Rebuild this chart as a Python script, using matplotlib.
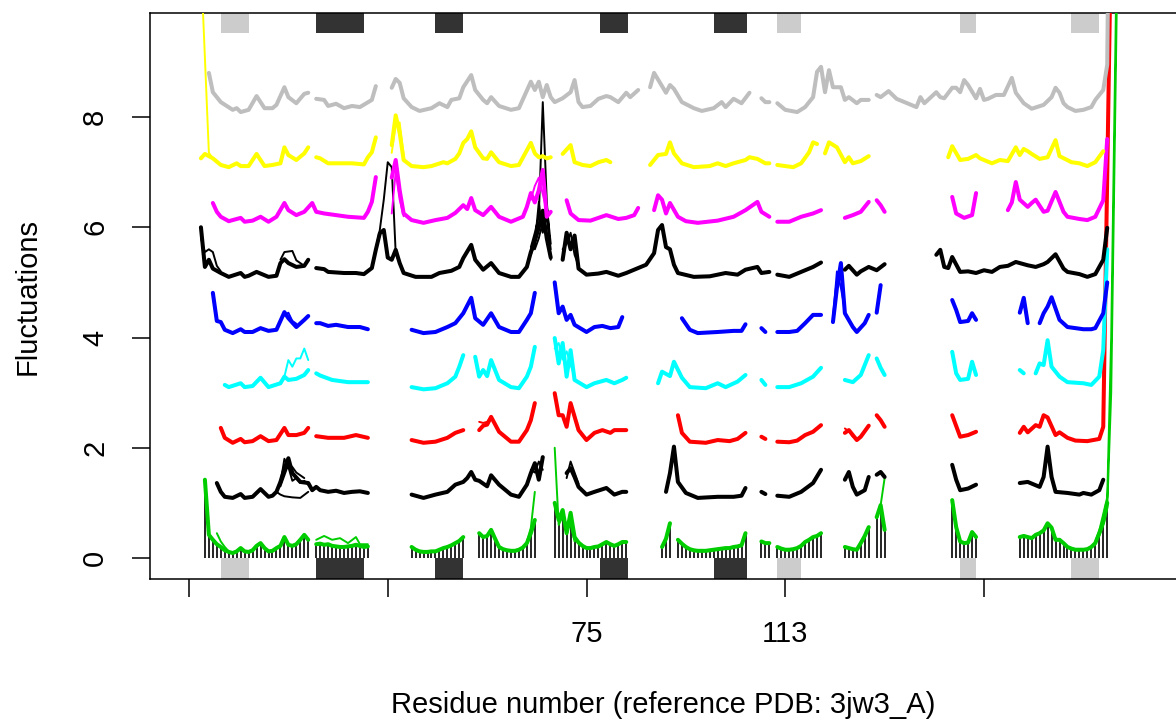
import numpy as np
import matplotlib
matplotlib.use("Agg")
import matplotlib.pyplot as plt
from matplotlib.patches import Rectangle

plt.rcParams['font.family'] = ['Liberation Sans', 'DejaVu Sans']

# ---------------- data ----------------
group_offset = [0, 1, 2, 3, 4, 5, 6, 7, 8]
group_color = ['#00CD00', 'black', 'red', 'cyan', 'blue', 'black', 'magenta', 'yellow', '#BEBEBE']

# green group (offset 0): one value per alignment position, (start, values)
green_segs = [
    (4, [1.42, 0.42, 0.33, 0.25, 0.20, 0.14, 0.11, 0.09, 0.12, 0.18, 0.12, 0.11, 0.14, 0.22,
         0.27, 0.18, 0.12, 0.13, 0.18, 0.22, 0.38, 0.24, 0.22, 0.25, 0.33, 0.42, 0.33]),
    (32, [0.25, 0.26, 0.24, 0.25, 0.22, 0.21, 0.20, 0.20, 0.21, 0.22, 0.24, 0.22, 0.20, 0.21]),
    (56, [0.20, 0.15, 0.12, 0.11, 0.11, 0.12, 0.12, 0.15, 0.18, 0.20, 0.23, 0.27, 0.31, 0.38]),
    (73, [0.45, 0.38, 0.40, 0.51, 0.35, 0.20, 0.16, 0.14, 0.13, 0.13, 0.15, 0.19, 0.27, 0.45, 0.69]),
    (92, [1.00, 0.69, 0.87, 0.45, 0.82, 0.38, 0.28, 0.22, 0.18, 0.18, 0.20, 0.21, 0.25, 0.29,
          0.25, 0.22, 0.25, 0.29, 0.29]),
    (119, [0.20, 0.35, 0.63]),
    (123, [0.33, 0.26, 0.20, 0.16, 0.14, 0.13, 0.13, 0.13, 0.14, 0.15, 0.16, 0.17, 0.18, 0.18,
           0.20, 0.21, 0.23, 0.45]),
    (144, [0.30, 0.27, 0.27]),
    (148, [0.20, 0.17, 0.15, 0.15, 0.16, 0.18, 0.22, 0.29, 0.33, 0.38, 0.40, 0.45]),
    (165, [0.20, 0.18, 0.16, 0.15, 0.27, 0.40, 0.56]),
    (173, [0.74, 0.96, 0.51]),
    (192, [1.05, 0.56, 0.30, 0.27, 0.28, 0.47, 0.38]),
    (209, [0.38, 0.40, 0.38, 0.36, 0.42, 0.45, 0.50, 0.63, 0.55, 0.33, 0.33, 0.27, 0.20, 0.17,
           0.15, 0.15, 0.15, 0.16, 0.20, 0.27, 0.45, 0.65, 1.00]),
]
green_alt = [
    [(7, 0.45), (8, 0.30), (9, 0.20), (10, 0.12)],
    [(32, 0.33), (34, 0.40), (36, 0.33), (38, 0.36), (40, 0.27), (42, 0.38), (43, 0.25), (45, 0.25)],
    [(85, 0.30), (86, 0.55), (87, 1.20)],
    [(92, 2.00), (93, 0.60), (94, 0.75), (95, 0.50), (96, 0.60), (97, 0.30)],
    [(173, 0.74), (174, 0.96), (175, 1.45)],
    [(228, 0.30), (229, 0.50), (230, 0.80), (231, 1.10), (232, 4.0), (233, 9.0), (234, 14.0)],
    [(229, 0.40), (230, 0.60), (231, 0.90), (232, 3.0), (233, 8.0), (234, 13.0)],
]

black1_segs = [
    [(7, 0.36), (8, 0.20), (9, 0.11), (11, 0.09), (13, 0.16), (14, 0.09), (16, 0.11), (18, 0.25),
     (20, 0.11), (21, 0.13), (22, 0.20), (23, 0.38), (24, 0.62), (25, 0.81), (26, 0.54), (28, 0.38),
     (30, 0.36), (31, 0.23), (32, 0.29), (33, 0.23), (35, 0.20), (37, 0.22), (39, 0.18), (41, 0.20),
     (43, 0.21), (45, 0.18)],
    [(56, 0.15), (59, 0.09), (62, 0.15), (65, 0.20), (67, 0.33), (69, 0.38), (70, 0.45), (71, 0.56),
     (72, 0.42), (73, 0.40), (75, 0.30), (76, 0.50), (78, 0.33), (81, 0.15), (83, 0.11), (85, 0.33),
     (86, 0.54), (87, 0.72), (88, 0.42), (89, 0.83)],
    [(95, 0.54), (96, 0.63), (97, 0.47), (98, 0.29), (100, 0.15), (102, 0.20), (105, 0.27),
     (107, 0.15), (109, 0.20), (110, 0.20)],
    [(120, 0.20), (121, 0.54), (122, 1.02), (123, 0.38), (125, 0.18), (128, 0.09), (133, 0.11),
     (137, 0.11), (139, 0.13), (140, 0.27)],
    [(144, 0.20), (145, 0.16)],
    [(148, 0.13), (151, 0.11), (154, 0.20), (157, 0.36), (159, 0.60)],
    [(165, 0.42), (166, 0.56), (167, 0.29), (168, 0.15), (170, 0.23), (171, 0.47)],
    [(173, 0.51), (174, 0.56), (175, 0.47)],
    [(192, 0.69), (193, 0.42), (194, 0.23), (196, 0.26), (198, 0.33)],
    [(209, 0.36), (211, 0.38), (214, 0.29), (215, 0.47), (216, 1.02), (217, 0.47), (218, 0.20),
     (221, 0.18), (224, 0.15), (225, 0.18), (227, 0.15), (229, 0.23), (230, 0.42)],
]
black1_alt = [
    [(22, 0.20), (23, 0.15), (24, 0.12), (26, 0.10), (28, 0.09), (30, 0.20)],
    [(23, 0.35), (24, 0.80), (25, 0.65), (26, 0.40), (27, 0.45), (28, 0.36), (29, 0.40), (30, 0.33)],
    [(23, 0.30), (24, 0.50), (25, 0.70), (26, 0.65), (27, 0.55), (28, 0.50), (29, 0.45)],
    [(86, 0.60), (87, 0.55), (88, 0.75), (89, 0.60)],
    [(95, 0.45), (96, 0.75), (97, 0.55), (98, 0.35)],
]

red_segs = [
    [(8, 0.36), (9, 0.18), (11, 0.09), (13, 0.16), (14, 0.10), (16, 0.12), (18, 0.21), (20, 0.12),
     (22, 0.14), (24, 0.36), (25, 0.23), (27, 0.23), (29, 0.27), (30, 0.36)],
    [(32, 0.21), (35, 0.18), (39, 0.18), (42, 0.23), (45, 0.18)],
    [(56, 0.14), (59, 0.09), (62, 0.11), (65, 0.18), (67, 0.27), (69, 0.32)],
    [(73, 0.32), (74, 0.40), (75, 0.42), (76, 0.56), (78, 0.29), (81, 0.11), (83, 0.11), (85, 0.32),
     (86, 0.50), (87, 0.81)],
    [(92, 0.99), (93, 0.59), (94, 0.59), (95, 0.38), (96, 0.81), (98, 0.32), (100, 0.14), (102, 0.27),
     (104, 0.32), (106, 0.27), (107, 0.32), (109, 0.32), (110, 0.32)],
    [(123, 0.59), (124, 0.27), (126, 0.11), (130, 0.09), (133, 0.14), (136, 0.12), (138, 0.16),
     (140, 0.27)],
    [(144, 0.20), (145, 0.16)],
    [(148, 0.11), (151, 0.10), (153, 0.13), (155, 0.23), (157, 0.29), (159, 0.41)],
    [(165, 0.27), (166, 0.32), (168, 0.14), (169, 0.20), (171, 0.40)],
    [(173, 0.59), (174, 0.50), (175, 0.38)],
    [(192, 0.59), (194, 0.20), (196, 0.23), (198, 0.29)],
    [(209, 0.27), (210, 0.38), (211, 0.28), (213, 0.41), (214, 0.38), (215, 0.59), (216, 0.55),
     (218, 0.23), (219, 0.28), (221, 0.18), (223, 0.13), (226, 0.12), (229, 0.16), (230, 0.38),
     (232, 9.5)],
]
red_alt = [
    [(73, 0.47), (74, 0.45), (75, 0.47), (76, 0.56)],
    [(165, 0.35), (166, 0.30), (167, 0.20)],
]

cyan_segs = [
    [(9, 0.14), (10, 0.10), (13, 0.17), (14, 0.10), (16, 0.12), (18, 0.27), (20, 0.10), (23, 0.17),
     (24, 0.29), (25, 0.23), (27, 0.25), (29, 0.32), (30, 0.41)],
    [(32, 0.35), (33, 0.31), (36, 0.23), (40, 0.19), (43, 0.19), (45, 0.19)],
    [(56, 0.10), (59, 0.06), (62, 0.08), (65, 0.17), (67, 0.29), (68, 0.47), (69, 0.68)],
    [(72, 0.65), (73, 0.29), (74, 0.41), (75, 0.30), (76, 0.59), (78, 0.23), (81, 0.10), (83, 0.08),
     (85, 0.29), (86, 0.47), (87, 0.83)],
    [(92, 0.99), (93, 0.53), (94, 0.90), (95, 0.29), (96, 0.77), (97, 0.23), (100, 0.10), (102, 0.17),
     (105, 0.23), (107, 0.17), (109, 0.23), (110, 0.27)],
    [(118, 0.17), (119, 0.38), (121, 0.30), (122, 0.56), (124, 0.27), (126, 0.10), (130, 0.08),
     (133, 0.17), (135, 0.10), (138, 0.20), (140, 0.32)],
    [(144, 0.23), (145, 0.14)],
    [(148, 0.10), (151, 0.10), (154, 0.17), (157, 0.29), (159, 0.45)],
    [(165, 0.23), (167, 0.19), (169, 0.32), (171, 0.68)],
    [(173, 0.62), (174, 0.45), (175, 0.32)],
    [(192, 0.74), (193, 0.35), (194, 0.23), (196, 0.25), (197, 0.56), (198, 0.32)],
    [(209, 0.41), (210, 0.35)],
    [(213, 0.35), (214, 0.53), (215, 0.50), (216, 0.95), (217, 0.47), (219, 0.29), (221, 0.19),
     (225, 0.17), (227, 0.14), (229, 0.29), (230, 0.77), (231, 2.6)],
]
cyan_alt = [
    [(24, 0.29), (25, 0.59), (26, 0.47), (27, 0.62), (28, 0.62), (29, 0.80), (30, 0.59)],
    [(92, 0.80), (93, 0.90), (94, 0.60), (95, 0.75), (96, 0.50), (97, 0.30)],
]

blue_segs = [
    [(6, 0.81), (7, 0.30), (8, 0.28), (9, 0.14), (11, 0.08), (13, 0.15), (14, 0.10), (16, 0.10),
     (18, 0.17), (20, 0.12), (22, 0.14), (24, 0.46), (25, 0.35), (27, 0.19), (29, 0.32), (30, 0.39)],
    [(32, 0.26), (33, 0.26), (35, 0.21), (37, 0.23), (40, 0.19), (43, 0.19), (45, 0.15)],
    [(56, 0.14), (59, 0.08), (62, 0.10), (65, 0.19), (67, 0.26), (69, 0.44), (71, 0.72), (72, 0.35),
     (74, 0.23), (76, 0.44), (78, 0.19), (81, 0.10), (83, 0.10), (85, 0.32), (86, 0.44), (87, 0.81)],
    [(92, 1.00), (93, 0.44), (94, 0.56), (95, 0.32), (96, 0.41), (97, 0.23), (100, 0.10), (102, 0.19),
     (104, 0.21), (106, 0.17), (108, 0.19), (109, 0.37)],
    [(124, 0.35), (126, 0.14), (128, 0.08), (133, 0.10), (137, 0.12), (139, 0.12), (140, 0.24)],
    [(144, 0.17), (145, 0.10)],
    [(148, 0.10), (151, 0.10), (153, 0.12), (155, 0.26), (157, 0.41), (159, 0.41)],
    [(162, 0.28), (163, 0.90), (164, 1.35), (165, 0.44), (167, 0.19), (168, 0.10), (170, 0.26),
     (171, 0.41)],
    [(173, 0.45), (174, 0.95)],
    [(192, 0.68), (193, 0.50), (194, 0.28), (196, 0.30), (197, 0.44), (198, 0.32)],
    [(209, 0.45), (210, 0.72), (211, 0.26)],
    [(214, 0.26), (215, 0.44), (216, 0.56), (217, 0.73), (219, 0.32), (221, 0.19), (223, 0.17),
     (225, 0.15), (227, 0.15), (228, 0.17), (230, 0.44), (231, 1.00)],
]
blue_alt = [
    [(162, 0.35), (163, 1.20), (164, 0.90), (165, 0.50)],
    [(24, 0.40), (25, 0.45), (26, 0.30), (27, 0.25)],
]

black5_segs = [
    [(3, 1.00), (4, 0.28), (5, 0.41), (6, 0.25), (8, 0.17), (10, 0.10), (13, 0.17), (14, 0.10),
     (15, 0.12), (17, 0.19), (20, 0.10), (22, 0.12), (23, 0.35), (24, 0.42), (25, 0.35), (27, 0.28),
     (29, 0.30), (30, 0.41)],
    [(32, 0.26), (34, 0.24), (35, 0.19), (39, 0.17), (42, 0.17), (44, 0.15), (46, 0.26), (47, 0.59),
     (48, 0.89), (49, 0.95), (50, 0.45), (51, 0.41), (52, 0.59), (53, 0.35), (54, 0.17), (57, 0.10),
     (61, 0.10), (63, 0.17), (66, 0.21), (68, 0.28), (69, 0.44), (71, 0.68), (72, 0.41), (74, 0.23),
     (76, 0.35), (78, 0.17), (81, 0.10), (83, 0.10), (85, 0.28), (86, 0.55), (87, 0.75), (88, 1.00),
     (89, 1.30), (90, 0.80), (91, 0.45)],
    [(94, 0.41), (95, 0.90), (96, 0.60), (97, 0.85), (98, 0.25), (100, 0.14), (103, 0.16), (105, 0.19),
     (108, 0.12), (110, 0.17), (113, 0.26), (115, 0.32), (117, 0.53), (118, 0.95), (119, 1.04),
     (120, 0.64), (121, 0.60), (122, 0.32), (123, 0.17), (127, 0.10), (131, 0.11), (135, 0.17),
     (138, 0.14), (140, 0.23), (143, 0.28), (144, 0.17), (146, 0.19)],
    [(148, 0.14), (151, 0.10), (154, 0.19), (157, 0.28), (159, 0.36)],
    [(165, 0.23), (166, 0.30), (168, 0.14), (169, 0.20), (171, 0.28), (173, 0.22), (175, 0.33)],
    [(188, 0.50), (189, 0.59), (190, 0.28), (191, 0.26), (192, 0.46), (194, 0.19), (196, 0.20),
     (198, 0.17), (200, 0.22), (202, 0.19), (204, 0.28), (206, 0.30), (208, 0.37), (211, 0.31),
     (213, 0.28), (215, 0.33), (216, 0.37), (218, 0.51), (220, 0.25), (221, 0.19), (224, 0.15),
     (226, 0.10), (228, 0.15), (230, 0.41), (231, 0.99)],
]
black5_alt = [
    [(3, 0.80), (4, 0.55), (5, 0.60), (6, 0.55), (7, 0.30), (8, 0.20)],
    [(23, 0.41), (24, 0.55), (26, 0.57), (27, 0.40), (29, 0.30), (30, 0.40)],
    [(46, 0.26), (47, 0.60), (48, 0.95), (49, 1.50), (50, 2.18), (51, 2.09), (52, 0.53), (53, 0.35),
     (54, 0.20)],
    [(86, 0.64), (87, 0.90), (88, 1.20), (89, 3.27), (90, 1.49), (91, 0.41)],
    [(86, 0.50), (87, 0.70), (88, 1.45), (89, 0.90), (90, 1.20), (91, 0.60)],
    [(87, 0.60), (88, 0.80), (89, 1.10), (90, 1.40), (91, 0.70)],
    [(94, 0.60), (95, 0.70), (96, 0.90), (97, 0.50), (98, 0.30)],
]

magenta_segs = [
    [(6, 0.44), (7, 0.28), (8, 0.19), (10, 0.11), (13, 0.17), (14, 0.10), (16, 0.12), (18, 0.19),
     (20, 0.10), (22, 0.19), (24, 0.44), (25, 0.31), (27, 0.22), (29, 0.28), (31, 0.44), (32, 0.28),
     (34, 0.25), (37, 0.22), (40, 0.19), (44, 0.17), (45, 0.28), (46, 0.46), (47, 0.91)],
    [(51, 0.90), (52, 1.22), (53, 0.67), (54, 0.25), (56, 0.13), (59, 0.08), (62, 0.13), (65, 0.17),
     (67, 0.26), (69, 0.40), (70, 0.33), (71, 0.53), (72, 0.31), (74, 0.22), (76, 0.37), (78, 0.19),
     (81, 0.10), (84, 0.19), (85, 0.37), (86, 0.62), (87, 0.45), (88, 0.67), (89, 1.04), (90, 0.19),
     (91, 0.28)],
    [(95, 0.49), (96, 0.25), (98, 0.13), (101, 0.12), (103, 0.17), (105, 0.22), (108, 0.15),
     (110, 0.17), (112, 0.22), (113, 0.35)],
    [(117, 0.31), (118, 0.58), (119, 0.50), (120, 0.25), (121, 0.44), (123, 0.19), (125, 0.11),
     (128, 0.08), (133, 0.12), (137, 0.19), (140, 0.31), (143, 0.46), (144, 0.28), (146, 0.19)],
    [(148, 0.10), (151, 0.10), (154, 0.19), (157, 0.25), (159, 0.31)],
    [(165, 0.17), (167, 0.22), (169, 0.28), (171, 0.46)],
    [(173, 0.49), (174, 0.40), (175, 0.28)],
    [(192, 0.55), (193, 0.25), (195, 0.17), (197, 0.22), (198, 0.62)],
    [(206, 0.31), (207, 0.45), (208, 0.82), (209, 0.50), (211, 0.37), (212, 0.44), (213, 0.50),
     (215, 0.28), (216, 0.30), (218, 0.64), (220, 0.28), (221, 0.19), (224, 0.15), (226, 0.13),
     (228, 0.19), (230, 0.49), (231, 1.60)],
]
magenta_alt = [
    [(51, 0.25), (52, 1.00), (53, 0.50), (54, 0.20)],
    [(86, 0.50), (87, 0.75), (88, 0.90), (89, 0.60), (90, 0.30)],
]

yellow_segs = [
    [(3, 0.25), (4, 0.33), (6, 0.25), (8, 0.13), (10, 0.09), (12, 0.16), (13, 0.11), (15, 0.11),
     (17, 0.33), (19, 0.11), (21, 0.13), (23, 0.16), (24, 0.45), (25, 0.31), (27, 0.22), (29, 0.34),
     (30, 0.45)],
    [(32, 0.27), (33, 0.25), (35, 0.16), (38, 0.16), (41, 0.16), (44, 0.14), (45, 0.27), (46, 0.36),
     (47, 0.63)],
    [(51, 0.49), (52, 1.03), (53, 0.71), (54, 0.22), (56, 0.11), (59, 0.09), (61, 0.11), (64, 0.18),
     (65, 0.16), (67, 0.24), (68, 0.34), (69, 0.53), (70, 0.60), (71, 0.74), (72, 0.45), (74, 0.25),
     (75, 0.24), (76, 0.36), (78, 0.18), (81, 0.11), (83, 0.13), (86, 0.53), (87, 0.34), (88, 0.27),
     (89, 0.29), (90, 0.25), (91, 0.27)],
    [(94, 0.33), (96, 0.49), (97, 0.18), (99, 0.13), (101, 0.11), (103, 0.18), (105, 0.22), (106, 0.18)],
    [(116, 0.13), (118, 0.31), (120, 0.33), (121, 0.54), (122, 0.34), (124, 0.16), (127, 0.09),
     (131, 0.11), (133, 0.16), (135, 0.11), (137, 0.16), (140, 0.22), (141, 0.27), (143, 0.24),
     (145, 0.16), (146, 0.16)],
    [(148, 0.13), (152, 0.09), (154, 0.16), (156, 0.36), (157, 0.54), (158, 0.51)],
    [(160, 0.34), (161, 0.54), (163, 0.45), (165, 0.18), (166, 0.27), (167, 0.16), (169, 0.20),
     (171, 0.29)],
    [(191, 0.27), (192, 0.47), (194, 0.22), (196, 0.24), (198, 0.31), (199, 0.25), (202, 0.16),
     (204, 0.22), (206, 0.20), (208, 0.45), (209, 0.31), (210, 0.42), (211, 0.38), (212, 0.33),
     (214, 0.24), (216, 0.27), (218, 0.58), (219, 0.29), (222, 0.18), (224, 0.16), (226, 0.11),
     (228, 0.18), (230, 0.38)],
]
yellow_alt = [
    [(3, 3.80), (5, 0.35), (6, 0.25)],
    [(51, 0.35), (52, 0.85), (53, 0.90), (54, 0.30)],
]

gray_segs = [
    [(5, 0.80), (6, 0.45), (8, 0.27), (11, 0.13), (12, 0.16), (13, 0.09), (15, 0.13), (17, 0.38),
     (19, 0.16), (21, 0.16), (22, 0.22), (24, 0.54), (25, 0.36), (27, 0.25), (29, 0.42), (30, 0.44)],
    [(32, 0.33), (34, 0.31), (35, 0.20), (37, 0.24), (39, 0.16), (41, 0.20), (43, 0.18), (46, 0.31),
     (47, 0.56)],
    [(51, 0.53), (52, 0.69), (53, 0.62), (54, 0.34), (56, 0.18), (58, 0.11), (61, 0.16), (63, 0.25),
     (65, 0.18), (66, 0.31), (68, 0.34), (69, 0.54), (71, 0.76), (72, 0.49), (74, 0.31), (75, 0.25),
     (76, 0.36), (78, 0.20), (81, 0.13), (83, 0.16), (86, 0.64), (87, 0.49), (88, 0.64), (89, 0.36),
     (90, 0.58), (91, 0.36), (92, 0.27), (94, 0.34), (96, 0.45), (97, 0.67), (98, 0.27), (99, 0.18),
     (101, 0.20), (103, 0.33), (105, 0.38), (106, 0.36), (108, 0.27), (110, 0.44), (111, 0.36),
     (113, 0.49)],
    [(116, 0.54), (117, 0.80), (120, 0.44), (121, 0.58), (122, 0.51), (124, 0.27), (127, 0.16),
     (129, 0.11), (132, 0.16), (134, 0.27), (135, 0.18), (137, 0.33), (139, 0.25), (141, 0.44)],
    [(144, 0.34), (145, 0.27), (146, 0.27)],
    [(148, 0.25), (150, 0.13), (153, 0.09), (155, 0.18), (157, 0.36), (158, 0.82), (159, 0.91),
     (160, 0.45), (161, 0.85), (162, 0.54), (164, 0.54), (165, 0.31), (166, 0.36), (168, 0.25),
     (169, 0.31), (171, 0.31)],
    [(173, 0.40), (174, 0.36), (176, 0.47), (178, 0.33), (180, 0.27), (183, 0.18), (184, 0.36),
     (185, 0.25), (188, 0.45), (189, 0.36), (190, 0.34), (192, 0.53), (193, 0.53), (194, 0.45),
     (195, 0.67), (196, 0.58), (198, 0.34), (199, 0.51), (200, 0.31), (201, 0.33), (203, 0.40),
     (205, 0.40), (207, 0.71), (208, 0.44), (210, 0.25), (212, 0.15), (215, 0.22), (217, 0.36),
     (218, 0.53), (219, 0.44), (220, 0.25), (221, 0.18), (223, 0.11), (225, 0.13), (227, 0.18),
     (228, 0.31), (230, 0.49), (231, 0.95), (232, 8.0)],
]

# secondary structure (alignment positions)
helix_start = [32, 62, 103.5, 132]
helix_end = [44, 69, 110.5, 140.5]
strand_start = [8, 148, 194, 222]
strand_end = [15, 154, 198, 229]

xtick_pos = [0, 50, 100, 150, 200]
xtick_lab = ['', '', '75', '113', '']
ytick_pos = [0, 2, 4, 6, 8]


# ---------------- helpers ----------------
def pairs_to_xy(segs):
    xs, ys = [], []
    for seg in segs:
        for p, v in seg:
            xs.append(p)
            ys.append(v)
        xs.append(np.nan)
        ys.append(np.nan)
    return np.array(xs, float), np.array(ys, float)


def runs_to_pairs(runs):
    return [[(s + i, v) for i, v in enumerate(vals)] for s, vals in runs]


# ---------------- figure ----------------
W, H = 1176, 727
fig = plt.figure(figsize=(W / 100, H / 100), dpi=100)
ax = fig.add_axes([150 / W, (H - 579) / H, (W - 150) / W, (579 - 13) / H])

px_per_pos = 3.975
x_left = (150 - 189) / px_per_pos
x_right = (W - 189) / px_per_pos
y_bot = (558 - 579) / 55.125
y_top = (558 - 13) / 55.125
ax.set_xlim(x_left, x_right)
ax.set_ylim(y_bot, y_top)

# bars under the green group
green_pairs = runs_to_pairs(green_segs)
bx = [p for seg in green_pairs for p, v in seg]
by = [v for seg in green_pairs for p, v in seg]
ax.vlines(bx, 0, by, colors='black', linewidth=1.2, zorder=2)

main_lw = 2.9
alt_lw = 1.4
kw = dict(solid_joinstyle='round', solid_capstyle='round')

groups = [
    (green_pairs, green_alt),
    (black1_segs, black1_alt),
    (red_segs, red_alt),
    (cyan_segs, cyan_alt),
    (blue_segs, blue_alt),
    (black5_segs, black5_alt),
    (magenta_segs, magenta_alt),
    (yellow_segs, yellow_alt),
    (gray_segs, []),
]
for k, (segs, alts) in enumerate(groups):
    off = group_offset[k]
    col = group_color[k]
    x, y = pairs_to_xy(segs)
    ax.plot(x, y + off, color=col, lw=main_lw, zorder=3 + k, **kw)
    if alts:
        ax_, ay_ = pairs_to_xy(alts)
        ax.plot(ax_, ay_ + off, color=col, lw=alt_lw, zorder=3 + k, **kw)

# secondary structure blocks (top and bottom margins of the plot region)
sse_top = (558 - 33) / 55.125
for s, e in zip(helix_start, helix_end):
    ax.add_patch(Rectangle((s, y_bot), e - s, 0 - y_bot, color='#333333', lw=0, zorder=2))
    ax.add_patch(Rectangle((s, sse_top), e - s, y_top - sse_top, color='#333333', lw=0, zorder=2))
for s, e in zip(strand_start, strand_end):
    ax.add_patch(Rectangle((s, y_bot), e - s, 0 - y_bot, color='#CCCCCC', lw=0, zorder=2))
    ax.add_patch(Rectangle((s, sse_top), e - s, y_top - sse_top, color='#CCCCCC', lw=0, zorder=2))

# axes styling
for side in ['left', 'top', 'bottom']:
    ax.spines[side].set_linewidth(1.1)
    ax.spines[side].set_color('black')
ax.spines['right'].set_visible(False)

ax.set_xticks(xtick_pos)
ax.set_xticklabels(xtick_lab)
ax.set_yticks(ytick_pos)
ax.set_yticklabels([str(v) for v in ytick_pos], rotation=90, va='center', ha='center')
for lab in ax.get_xticklabels():
    lab.set_va('center')
ax.tick_params(axis='both', length=13, width=1.1, labelsize=21, pad=26.5, color='black')

fig.text(663 / W, 1 - 705 / H, 'Residue number (reference PDB: 3jw3_A)', ha='center', va='center',
         fontsize=21)
fig.text(28 / W, 1 - 296 / H, 'Fluctuations', ha='center', va='center', rotation=90, fontsize=21)

fig.savefig('out.png', dpi=100)
